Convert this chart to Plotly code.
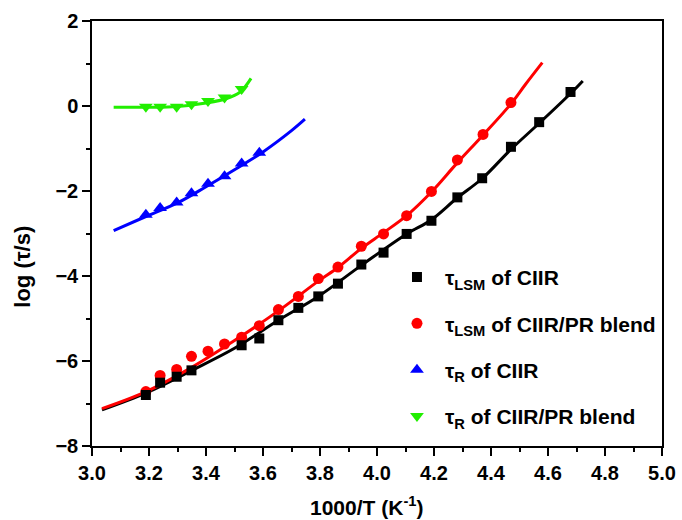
import plotly.graph_objects as go

# --- data ---
lsm_ciir_x = [3.189, 3.239, 3.297, 3.349, 3.525, 3.587, 3.654, 3.724, 3.794, 3.863,
              3.945, 4.023, 4.104, 4.191, 4.282, 4.369, 4.470, 4.569, 4.679]
lsm_ciir_y = [-6.80, -6.51, -6.37, -6.22, -5.63, -5.47, -5.04, -4.75, -4.48, -4.18,
              -3.73, -3.45, -3.01, -2.70, -2.15, -1.70, -0.96, -0.38, 0.33]

lsm_blend_x = [3.189, 3.239, 3.297, 3.349, 3.407, 3.465, 3.525, 3.587, 3.654, 3.724,
               3.794, 3.863, 3.945, 4.023, 4.104, 4.191, 4.282, 4.372, 4.470]
lsm_blend_y = [-6.72, -6.34, -6.20, -5.89, -5.77, -5.60, -5.44, -5.17, -4.79, -4.48,
               -4.06, -3.79, -3.30, -3.01, -2.58, -2.01, -1.27, -0.67, 0.08]

r_ciir_x = [3.189, 3.239, 3.297, 3.349, 3.407, 3.465, 3.525, 3.587]
r_ciir_y = [-2.56, -2.40, -2.27, -2.05, -1.83, -1.65, -1.35, -1.10]

r_blend_x = [3.189, 3.239, 3.297, 3.349, 3.407, 3.465, 3.525]
r_blend_y = [-0.02, -0.02, -0.02, 0.04, 0.12, 0.20, 0.40]

# fitted curves
fit_lsm_ciir_x = [3.035, 3.19, 3.35, 3.5, 3.654, 3.794, 3.945, 4.104, 4.19, 4.28, 4.37, 4.47, 4.57, 4.68, 4.722]
fit_lsm_ciir_y = [-7.15, -6.75, -6.22, -5.70, -5.04, -4.48, -3.75, -3.01, -2.68, -2.17, -1.70, -1.02, -0.40, 0.30, 0.59]

fit_lsm_blend_x = [3.035, 3.19, 3.35, 3.5, 3.654, 3.794, 3.863, 3.945, 4.023, 4.104, 4.19, 4.28, 4.37, 4.47, 4.52, 4.58]
fit_lsm_blend_y = [-7.12, -6.72, -6.15, -5.52, -4.82, -4.12, -3.80, -3.35, -2.98, -2.58, -2.03, -1.35, -0.70, 0.05, 0.50, 1.02]

fit_r_ciir_x = [3.076, 3.189, 3.3, 3.4, 3.5, 3.6, 3.7, 3.747]
fit_r_ciir_y = [-2.93, -2.60, -2.28, -1.90, -1.50, -1.08, -0.58, -0.31]

fit_r_blend_x = [3.076, 3.2, 3.3, 3.4, 3.47, 3.52, 3.558]
fit_r_blend_y = [-0.03, -0.03, -0.01, 0.07, 0.17, 0.33, 0.65]

x_title = "1000/T (K<sup>-1</sup>)"
y_title = "log (τ/s)"

BLACK, RED, BLUE, GREEN = "#000000", "#FF0000", "#0000FF", "#22EE00"
FONT = "Liberation Sans"

fig = go.Figure()

# fitted lines
for fx, fy, c in [(fit_lsm_ciir_x, fit_lsm_ciir_y, BLACK),
                  (fit_lsm_blend_x, fit_lsm_blend_y, RED),
                  (fit_r_ciir_x, fit_r_ciir_y, BLUE),
                  (fit_r_blend_x, fit_r_blend_y, GREEN)]:
    fig.add_trace(go.Scatter(x=fx, y=fy, mode="lines", line=dict(color=c, width=3, shape="spline"),
                             showlegend=False, hoverinfo="skip"))

# markers
fig.add_trace(go.Scatter(x=lsm_blend_x, y=lsm_blend_y, mode="markers",
                         marker=dict(symbol="circle", size=11, color=RED),
                         name="τ<sub>LSM</sub> of CIIR/PR blend", legendrank=2, legendgroup="b"))
fig.add_trace(go.Scatter(x=lsm_ciir_x, y=lsm_ciir_y, mode="markers",
                         marker=dict(symbol="square", size=10, color=BLACK),
                         name="τ<sub>LSM</sub> of CIIR", legendrank=1, legendgroup="a"))
fig.add_trace(go.Scatter(x=r_ciir_x, y=r_ciir_y, mode="markers",
                         marker=dict(symbol="triangle-up", size=12, color=BLUE),
                         name="τ<sub>R</sub> of CIIR", legendrank=3, legendgroup="c"))
fig.add_trace(go.Scatter(x=r_blend_x, y=r_blend_y, mode="markers",
                         marker=dict(symbol="triangle-down", size=12, color=GREEN),
                         name="τ<sub>R</sub> of CIIR/PR blend", legendrank=4, legendgroup="d"))

axis_common = dict(showline=True, linecolor="black", linewidth=1.5, mirror=True,
                   ticks="outside", ticklen=8, tickwidth=1.5, tickcolor="black",
                   showgrid=False, zeroline=False, automargin=False,
                   tickfont=dict(family=FONT, size=20, color="black", weight="bold"))

fig.update_xaxes(range=[3.0, 5.0], tick0=3.0, dtick=0.2, tickformat=".1f",
                 minor=dict(dtick=0.1, ticks="outside", ticklen=4, tickwidth=1.5, tickcolor="black"),
                 **axis_common)
fig.update_yaxes(range=[-8, 2], tick0=-8, dtick=2,
                 minor=dict(dtick=1, ticks="outside", ticklen=4, tickwidth=1.5, tickcolor="black"),
                 **axis_common)

# axis titles placed where the reference has them
fig.add_annotation(text=x_title, xref="x", yref="paper", x=3.963, y=-0.14,
                   xanchor="center", yanchor="middle", showarrow=False,
                   font=dict(family=FONT, size=21, color="black", weight="bold"))
fig.add_annotation(text=y_title, xref="paper", yref="y", x=-0.121, y=-3.78,
                   xanchor="center", yanchor="middle", textangle=-90, showarrow=False,
                   font=dict(family=FONT, size=22, color="black", weight="bold"))

fig.update_layout(
    width=682, height=520,
    margin=dict(l=91.7, r=20, t=20.7, b=74.3),
    paper_bgcolor="white", plot_bgcolor="white",
    legend=dict(x=0.521, y=0.445, xanchor="left", yanchor="top", itemwidth=46,
                bgcolor="rgba(0,0,0,0)", tracegroupgap=16,
                font=dict(family=FONT, size=21, color="black", weight="bold")),
)

fig.write_html("out.html")
